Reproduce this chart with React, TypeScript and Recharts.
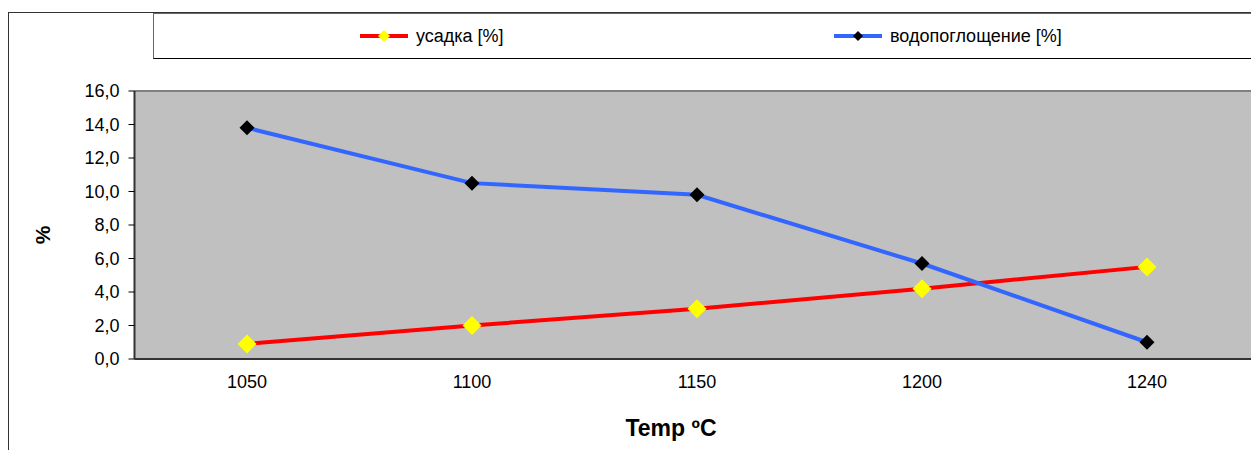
import { LineChart, Line, XAxis, YAxis, CartesianGrid } from 'recharts'

// temperatures (categories) and measured values
const temps = ['1050', '1100', '1150', '1200', '1240']
const shrinkage = [0.9, 2.0, 3.0, 4.2, 5.5]
const absorption = [13.8, 10.5, 9.8, 5.7, 1.0]
const yTicks = [0, 2, 4, 6, 8, 10, 12, 14, 16]
const bandEdges = [0.5, 1.5, 2.5, 3.5, 4.5]

const data = temps.map((t, i) => ({
  idx: i,
  temp: t,
  shrinkage: shrinkage[i],
  absorption: absorption[i],
}))

const Diamond = (size: number, fill: string) => (props: any) => {
  const { cx, cy } = props
  if (cx == null || cy == null) return null
  const r = size / 2
  return (
    <polygon
      points={`${cx},${cy - r} ${cx + r},${cy} ${cx},${cy + r} ${cx - r},${cy}`}
      fill={fill}
    />
  )
}

const YTitle = (props: any) => {
  const { viewBox } = props
  const x = viewBox.x - 32
  const y = viewBox.y + viewBox.height / 2 + 10
  return (
    <text
      x={x}
      y={y}
      transform={`rotate(-90 ${x} ${y})`}
      textAnchor="middle"
      dominantBaseline="central"
      fontWeight="bold"
      fontSize={21}
      fill="#000"
    >
      %
    </text>
  )
}

const XTitle = (props: any) => {
  const { viewBox } = props
  const x = viewBox.x + viewBox.width / 2 - 26
  const y = viewBox.y + viewBox.height - 14
  return (
    <text x={x} y={y} textAnchor="middle" fontWeight="bold" fontSize={23} fill="#000">
      Temp ºC
    </text>
  )
}

const LegendBox = () => {
  const item = (color: string, marker: string, msize: number, text: string, left: number) => (
    <div style={{ position: 'absolute', left, top: 12, display: 'flex', alignItems: 'center' }}>
      <svg width={48} height={20}>
        <line x1={0} y1={10} x2={48} y2={10} stroke={color} strokeWidth={4} />
        <polygon
          points={`24,${10 - msize} ${24 + msize},10 24,${10 + msize} ${24 - msize},10`}
          fill={marker}
        />
      </svg>
      <span style={{ marginLeft: 8, fontSize: 18, color: '#000', lineHeight: '20px' }}>{text}</span>
    </div>
  )
  return (
    <div
      style={{
        position: 'absolute',
        left: 153,
        top: 13,
        width: 1110,
        height: 44,
        background: '#fff',
        borderTop: '1px solid #666',
        borderLeft: '1px solid #666',
        borderBottom: '1px solid #000',
      }}
    >
      {item('#ff0000', '#ffff00', 6, 'усадка [%]', 206)}
      {item('#3366ff', '#000000', 5, 'водопоглощение [%]', 680)}
    </div>
  )
}

export default function App() {
  return (
    <div
      style={{
        position: 'fixed',
        left: 0,
        top: 0,
        width: 1251,
        height: 450,
        overflow: 'hidden',
        background: '#fff',
        fontFamily: 'Liberation Sans, Arial, sans-serif',
      }}
    >
      {/* outer chart frame */}
      <div
        style={{
          position: 'absolute',
          left: 8,
          top: 12,
          width: 1400,
          height: 600,
          borderLeft: '1px solid #333',
          borderTop: '1px solid #333',
        }}
      />
      <div style={{ position: 'absolute', left: 0, top: 0 }}>
        <LineChart
          width={1262}
          height={450}
          data={data}
          margin={{ top: 91, right: 2.5, bottom: 0, left: 74.5 }}
        >
          <rect x={134.5} y={91} width={1125} height={268} fill="#c0c0c0" />
          <line x1={134.5} y1={91} x2={1262} y2={91} stroke="#808080" strokeWidth={2} />
          <CartesianGrid vertical={false} stroke="#000" strokeWidth={1} />
          <XAxis
            xAxisId="main"
            type="number"
            dataKey="idx"
            domain={[-0.5, 4.5]}
            ticks={[0, 1, 2, 3, 4]}
            tickFormatter={(v: number) => temps[v]}
            tickLine={false}
            axisLine={{ stroke: '#333', strokeWidth: 2 }}
            tick={{ fill: '#000', fontSize: 18 }}
            tickMargin={10}
            height={91}
            label={<XTitle />}
          />
          <XAxis
            xAxisId="edges"
            type="number"
            dataKey="idx"
            domain={[-0.5, 4.5]}
            ticks={bandEdges}
            tick={false}
            tickSize={6}
            tickLine={{ stroke: '#000' }}
            axisLine={false}
            height={0}
          />
          <YAxis
            domain={[0, 16]}
            ticks={yTicks}
            interval={0}
            width={60}
            tickSize={6}
            tickMargin={9}
            tickLine={{ stroke: '#000' }}
            axisLine={{ stroke: '#333', strokeWidth: 2 }}
            tick={{ fill: '#000', fontSize: 18 }}
            tickFormatter={(v: number) => v.toFixed(1).replace('.', ',')}
            label={<YTitle />}
          />
          <Line
            xAxisId="main"
            type="linear"
            dataKey="shrinkage"
            name="усадка [%]"
            stroke="#ff0000"
            strokeWidth={4}
            dot={Diamond(19, '#ffff00')}
            activeDot={false}
            isAnimationActive={false}
          />
          <Line
            xAxisId="main"
            type="linear"
            dataKey="absorption"
            name="водопоглощение [%]"
            stroke="#3366ff"
            strokeWidth={4}
            dot={Diamond(15, '#000000')}
            activeDot={false}
            isAnimationActive={false}
          />
        </LineChart>
      </div>
      <LegendBox />
    </div>
  )
}
